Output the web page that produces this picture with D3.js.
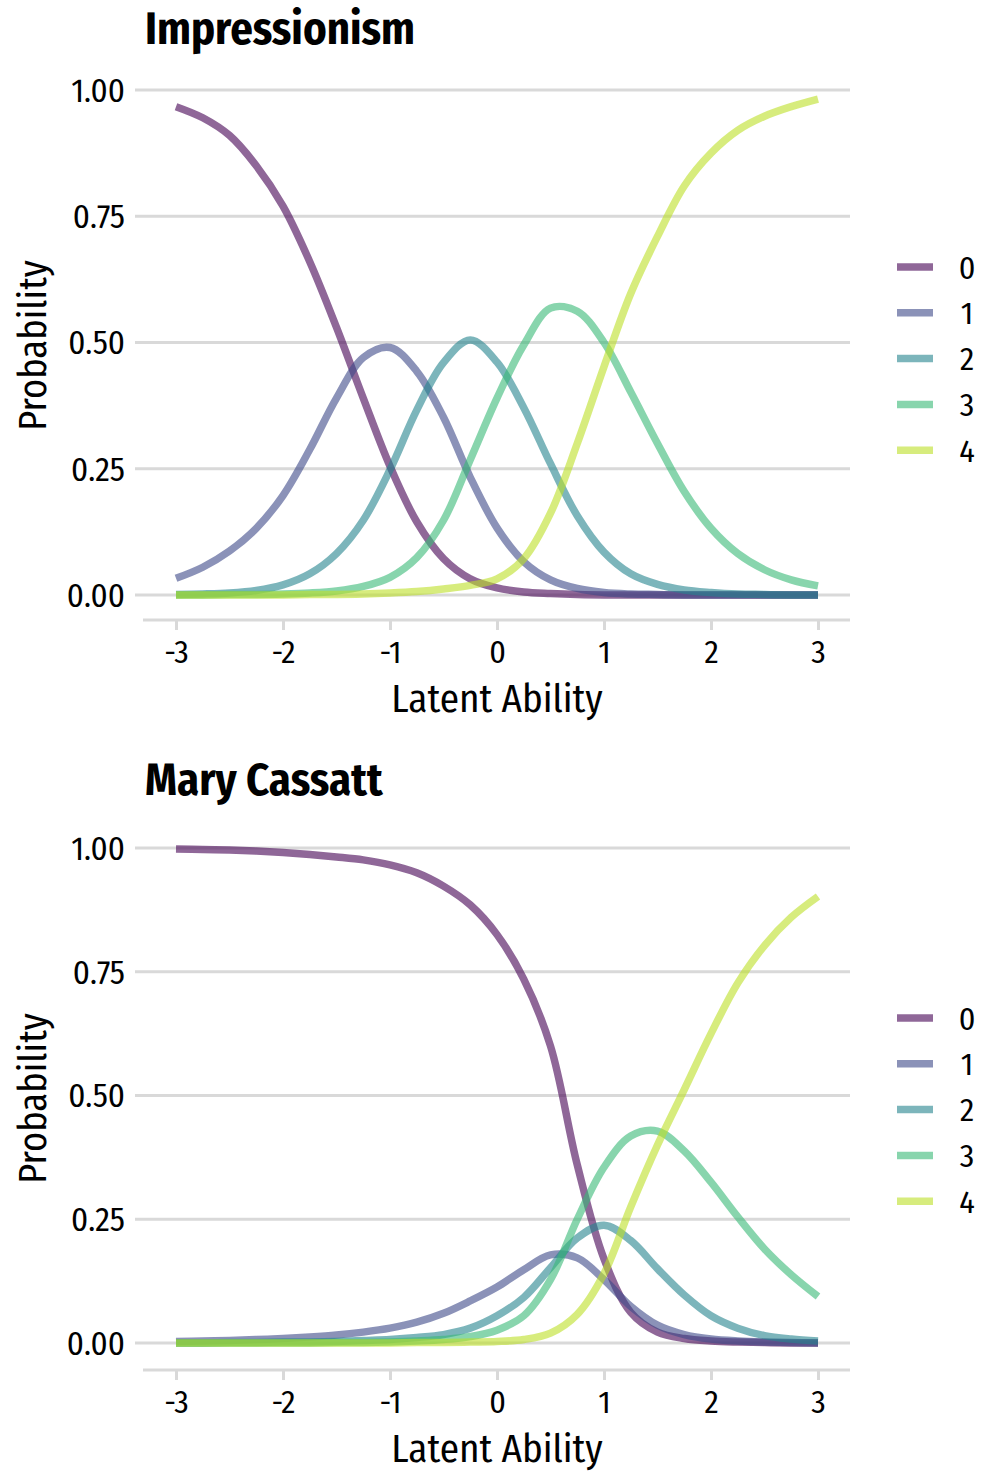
<!DOCTYPE html>
<html>
<head>
<meta charset="utf-8">
<script src="https://cdn.jsdelivr.net/npm/d3@7"></script>
<style>
  body { margin: 0; background: #fff; }
  svg text { font-family: "Fira Sans Condensed", "DejaVu Sans Condensed", "Liberation Sans Narrow", "Open Sans", sans-serif; font-stretch: condensed; fill: #000; }
</style>
</head>
<body>
<svg id="chart" width="995" height="1473"></svg>
<script>
// latent ability grid the curves were read at
var theta = [-3, -2.75, -2.5, -2.25, -2, -1.75, -1.5, -1.25, -1, -0.75, -0.5, -0.25,
  0, 0.25, 0.5, 0.75, 1, 1.25, 1.5, 1.75, 2, 2.25, 2.5, 2.75, 3];

var categories = ['0', '1', '2', '3', '4'];
var xTicks = [-3, -2, -1, 0, 1, 2, 3];
var yTicks = [0, 0.25, 0.5, 0.75, 1];

// Impressionism
var impCat0 = [0.967, 0.945, 0.91, 0.85, 0.77, 0.66, 0.53, 0.39, 0.255, 0.145, 0.072, 0.032,
  0.014, 0.006, 0.003, 0.001, 0, 0, 0, 0, 0, 0, 0, 0, 0];
var impCat1 = [0.033, 0.055, 0.087, 0.132, 0.197, 0.288, 0.39, 0.47, 0.49, 0.443, 0.352, 0.233,
  0.133, 0.066, 0.03, 0.013, 0.005, 0.002, 0.001, 0, 0, 0, 0, 0, 0];
var impCat2 = [0.001, 0.002, 0.004, 0.009, 0.02, 0.042, 0.082, 0.148, 0.248, 0.366, 0.46, 0.505,
  0.461, 0.371, 0.26, 0.157, 0.085, 0.042, 0.021, 0.01, 0.005, 0.002, 0.001, 0, 0];
var impCat3 = [0, 0, 0.001, 0.001, 0.002, 0.004, 0.008, 0.017, 0.035, 0.074, 0.148, 0.268,
  0.39, 0.495, 0.568, 0.562, 0.5, 0.402, 0.3, 0.205, 0.132, 0.082, 0.05, 0.03, 0.018];
var impCat4 = [0, 0, 0, 0, 0, 0.001, 0.001, 0.002, 0.004, 0.007, 0.012, 0.019,
  0.032, 0.072, 0.162, 0.3, 0.452, 0.597, 0.71, 0.81, 0.875, 0.92, 0.948, 0.967, 0.982];

// Mary Cassatt
var casCat0 = [0.998, 0.997, 0.996, 0.994, 0.991, 0.987, 0.982, 0.976, 0.966, 0.95, 0.923, 0.885,
  0.825, 0.735, 0.6, 0.36, 0.17, 0.062, 0.022, 0.009, 0.004, 0.002, 0.001, 0, 0];
var casCat1 = [0.003, 0.004, 0.005, 0.007, 0.009, 0.012, 0.016, 0.022, 0.03, 0.042, 0.06, 0.085,
  0.113, 0.148, 0.178, 0.172, 0.128, 0.074, 0.036, 0.017, 0.008, 0.004, 0.002, 0.001, 0];
var casCat2 = [0, 0, 0.001, 0.001, 0.002, 0.002, 0.003, 0.005, 0.007, 0.011, 0.017, 0.03,
  0.055, 0.092, 0.152, 0.212, 0.238, 0.207, 0.15, 0.097, 0.055, 0.03, 0.015, 0.008, 0.004];
var casCat3 = [0, 0, 0, 0, 0, 0, 0.001, 0.001, 0.002, 0.004, 0.007, 0.013,
  0.026, 0.055, 0.128, 0.25, 0.355, 0.418, 0.428, 0.388, 0.325, 0.255, 0.19, 0.138, 0.094];
var casCat4 = [0, 0, 0, 0, 0, 0, 0, 0, 0, 0.001, 0.001, 0.002,
  0.003, 0.007, 0.02, 0.058, 0.14, 0.275, 0.4, 0.512, 0.625, 0.727, 0.803, 0.86, 0.902];

var panels = [
  { title: 'Impressionism', series: [impCat0, impCat1, impCat2, impCat3, impCat4],
    top: 90, bottom: 595, titleY: 44, axisY: 620, legendY: 267 },
  { title: 'Mary Cassatt', series: [casCat0, casCat1, casCat2, casCat3, casCat4],
    top: 848, bottom: 1343, titleY: 795, axisY: 1370, legendY: 1018 }
];

// viridis, stopping short of the yellow end
var color = d3.scaleOrdinal()
  .domain(categories)
  .range(categories.map(function(c, i) { return d3.interpolateViridis(i * 0.225); }));

var svg = d3.select('#chart');
svg.append('rect').attr('width', 995).attr('height', 1473).attr('fill', '#fff');

var x = d3.scaleLinear().domain([-3, 3]).range([176, 818]);

function drawPanel(p) {
  var g = svg.append('g');
  var y = d3.scaleLinear().domain([0, 1]).range([p.bottom, p.top]);

  // horizontal grid
  g.append('g').selectAll('line')
    .data(yTicks)
    .join('line')
      .attr('x1', 135).attr('x2', 850)
      .attr('y1', function(d) { return y(d); })
      .attr('y2', function(d) { return y(d); })
      .attr('stroke', '#d9d9d9')
      .attr('stroke-width', 2.8);

  // y tick labels
  g.append('g').selectAll('text')
    .data(yTicks)
    .join('text')
      .attr('x', 125)
      .attr('y', function(d) { return y(d); })
      .attr('dy', '0.36em')
      .attr('text-anchor', 'end')
      .style('font-size', '33px')
      .text(d3.format('.2f'));

  // x axis, detached below the plot (plain hyphen for negatives)
  var xAxis = d3.axisBottom(x).tickValues(xTicks).tickSize(10).tickPadding(10)
    .tickFormat(function(d) { return String(d); });
  var ax = g.append('g')
    .attr('transform', 'translate(0,' + p.axisY + ')')
    .call(xAxis);
  ax.select('.domain').attr('d', 'M143,0H850').attr('stroke', '#d9d9d9').attr('stroke-width', 3);
  ax.selectAll('.tick line').attr('stroke', '#d9d9d9').attr('stroke-width', 3);
  ax.selectAll('.tick text').style('font-size', '32px').attr('fill', '#000');

  // axis titles
  g.append('text')
    .attr('x', 497).attr('y', p.axisY + 92)
    .attr('text-anchor', 'middle')
    .style('font-size', '39px')
    .text('Latent Ability');

  g.append('text')
    .attr('transform', 'translate(46,' + ((p.top + p.bottom) / 2 + 3) + ') rotate(-90)')
    .attr('text-anchor', 'middle')
    .style('font-size', '38.5px')
    .text('Probability');

  // title
  g.append('text')
    .attr('x', 145).attr('y', p.titleY)
    .style('font-size', '44.5px')
    .style('font-weight', 'bold')
    .text(p.title);

  // curves
  var line = d3.line()
    .x(function(d, i) { return x(theta[i]); })
    .y(function(d) { return y(d); })
    .curve(d3.curveCatmullRom.alpha(0.5));

  g.append('g').selectAll('path')
    .data(p.series)
    .join('path')
      .attr('d', line)
      .attr('fill', 'none')
      .attr('stroke', function(d, i) { return color(categories[i]); })
      .attr('stroke-opacity', 0.6)
      .attr('stroke-width', 7.5);

  // legend
  var lg = g.append('g').selectAll('g')
    .data(categories)
    .join('g')
      .attr('transform', function(d, i) { return 'translate(897,' + (p.legendY + i * 45.8) + ')'; });
  lg.append('line')
    .attr('x1', 0).attr('x2', 36)
    .attr('stroke', function(d) { return color(d); })
    .attr('stroke-opacity', 0.6)
    .attr('stroke-width', 7.5);
  lg.append('text')
    .attr('x', 70).attr('dy', '0.36em')
    .attr('text-anchor', 'middle')
    .style('font-size', '32px')
    .text(function(d) { return d; });
}

panels.forEach(drawPanel);
</script>
</body>
</html>
